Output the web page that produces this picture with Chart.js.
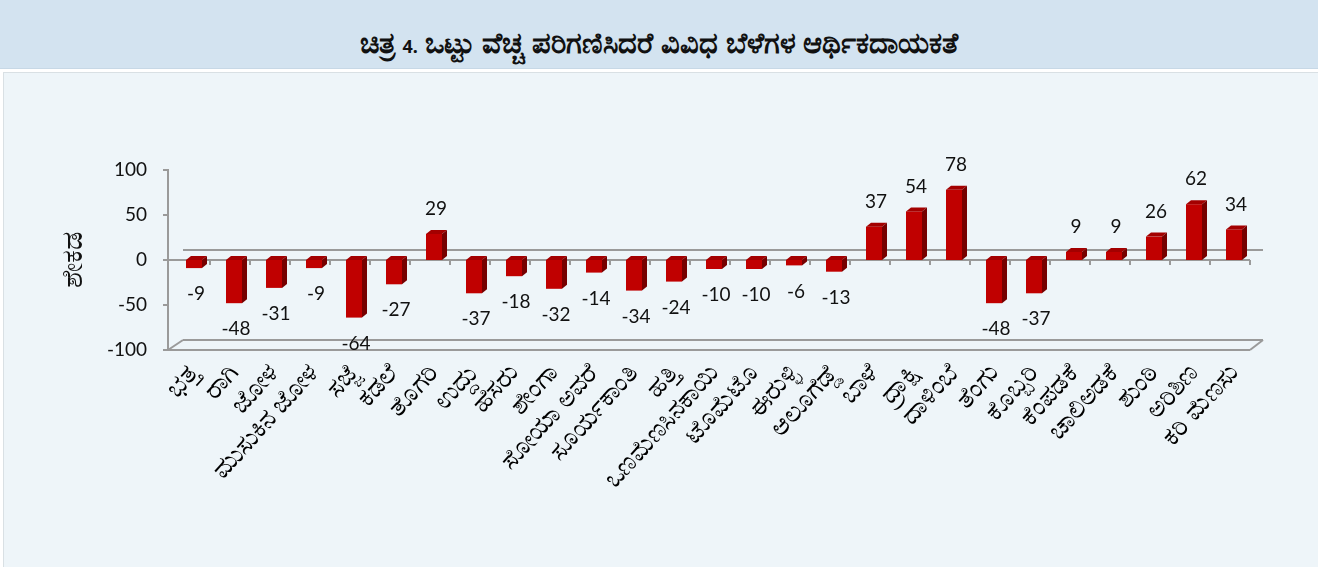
<!DOCTYPE html>
<html>
<head>
<meta charset="utf-8">
<script src="https://cdn.jsdelivr.net/npm/chart.js@4.4.1/dist/chart.umd.min.js"></script>
<style>
  html, body { margin: 0; padding: 0; background: #fff; width: 1318px; height: 567px; overflow: hidden; }
  #title {
    position: absolute; left: 0; top: 0; width: 1318px; height: 69px;
    background: #d3e3f0; box-shadow: inset 0 -1px 0 #c7d8e6;
    font: bold 29px 'Noto Sans', 'DejaVu Sans', sans-serif; color: #111;
    text-align: center; line-height: 84px;
  }
  #title .num { font-size: 18px; }
  #panel {
    position: absolute; left: 3px; top: 72px; width: 1315px; height: 495px;
    background: #eef5f9; box-shadow: inset 1px 1px 0 #d9e0e4;
  }
  #panel canvas { position: absolute; left: 0; top: 0; }
</style>
</head>
<body>
<div id="title">ಚಿತ್ರ <span class="num">4.</span> ಒಟ್ಟು ವೆಚ್ಚ ಪರಿಗಣಿಸಿದರೆ ವಿವಿಧ ಬೆಳೆಗಳ ಆರ್ಥಿಕದಾಯಕತೆ</div>
<div id="panel"><canvas id="chart" width="1315" height="495"></canvas></div>
<script>
const crops = [
  'ಭತ್ತ', 'ರಾಗಿ', 'ಜೋಳ', 'ಮುಸುಕಿನ ಜೋಳ', 'ಸಜ್ಜೆ', 'ಕಡಲೆ', 'ತೊಗರಿ', 'ಉದ್ದು', 'ಹೆಸರು',
  'ಶೇಂಗಾ', 'ಸೋಯಾ ಅವರೆ', 'ಸೂರ್ಯಕಾಂತಿ', 'ಹತ್ತಿ', 'ಒಣಮೆಣಸಿನಕಾಯಿ', 'ಟೊಮೆಟೊ', 'ಈರುಳ್ಳಿ',
  'ಆಲೂಗೆಡ್ಡೆ', 'ಬಾಳೆ', 'ದ್ರಾಕ್ಷಿ', 'ದಾಳಿಂಬೆ', 'ತೆಂಗು', 'ಕೊಬ್ಬರಿ', 'ಕೆಂಪಡಕೆ', 'ಚಾಲಿಅಡಕೆ',
  'ಶುಂಠಿ', 'ಅರಿಶಿಣ', 'ಕರಿ ಮೆಣಸು'
];
const profitability = [
  -9, -48, -31, -9, -64, -27, 29, -37, -18,
  -32, -14, -34, -24, -10, -10, -6,
  -13, 37, 54, 78, -48, -37, 9, 9,
  26, 62, 34
];
const yTicks = [-100, -50, 0, 50, 100];
const yTitle = 'ಶೇಕಡ';

const numFont = "Lato, 'Open Sans', sans-serif";
const knFont = "'Noto Sans', 'DejaVu Sans', sans-serif";
const axisGrey = '#9a9a9a';
const depth = { dx: 5, dy: -4 };      // bar extrusion
const wall = { dx: 13, dy: -10 };     // back edge of the floor / zero plane
const shift = 4;                      // columns sit this far right of the category slot

// pseudo-3D axes, floor and zero plane behind the bars
const framePlugin = {
  id: 'frame',
  beforeDatasetsDraw(chart) {
    const { ctx, scales: { x, y } } = chart;
    const y0 = y.getPixelForValue(0);
    const yb = y.getPixelForValue(-100);
    const yt = y.getPixelForValue(100);
    const L = x.left - shift, R = x.right - shift;
    const ax = L - 2;
    const seg = (a, b, c, d) => { ctx.beginPath(); ctx.moveTo(a, b); ctx.lineTo(c, d); ctx.stroke(); };
    ctx.save();
    ctx.strokeStyle = axisGrey;
    ctx.lineWidth = 2;
    // value axis with outside tick marks
    seg(ax, yt - 1, ax, yb + 1);
    yTicks.forEach(v => { const p = y.getPixelForValue(v); seg(ax - 5, p, ax, p); });
    // floor
    seg(ax, yb, R, yb);
    seg(L + wall.dx, yb + wall.dy, R + wall.dx, yb + wall.dy);
    seg(ax, yb, L + wall.dx, yb + wall.dy);
    seg(R, yb, R + wall.dx, yb + wall.dy);
    // zero plane
    seg(L + wall.dx, y0 + wall.dy, R + wall.dx, y0 + wall.dy);
    seg(ax, y0, R, y0);
    const step = (R - L) / crops.length;
    for (let i = 1; i <= crops.length; i++) seg(L + i * step, y0, L + i * step, y0 + 5);
    ctx.restore();
  }
};

// side and top faces of each column, then the value labels
const barFacesPlugin = {
  id: 'barFaces',
  afterDatasetsDraw(chart) {
    const ctx = chart.ctx;
    const meta = chart.getDatasetMeta(0);
    ctx.save();
    meta.data.forEach((bar, i) => {
      const { x, y, base, width } = bar.getProps(['x', 'y', 'base', 'width'], true);
      const l = x - width / 2, r = x + width / 2;
      const top = Math.min(y, base), bottom = Math.max(y, base);
      ctx.fillStyle = '#a30000';
      ctx.beginPath();
      ctx.moveTo(l, top); ctx.lineTo(l + depth.dx, top + depth.dy);
      ctx.lineTo(r + depth.dx, top + depth.dy); ctx.lineTo(r, top);
      ctx.closePath(); ctx.fill();
      ctx.fillStyle = '#760000';
      ctx.beginPath();
      ctx.moveTo(r, top); ctx.lineTo(r + depth.dx, top + depth.dy);
      ctx.lineTo(r + depth.dx, bottom + depth.dy); ctx.lineTo(r, bottom);
      ctx.closePath(); ctx.fill();

      const v = profitability[i];
      ctx.fillStyle = '#111';
      ctx.font = `19px ${numFont}`;
      ctx.textAlign = 'center';
      ctx.textBaseline = 'middle';
      ctx.fillText(String(v), x + 2, v >= 0 ? y - 25 : y + 26);
    });
    ctx.restore();
  }
};

new Chart(document.getElementById('chart'), {
  type: 'bar',
  data: {
    labels: crops,
    datasets: [{
      data: profitability,
      backgroundColor: '#c00000',
      borderWidth: 0,
      barPercentage: 0.4,
      categoryPercentage: 1
    }]
  },
  options: {
    responsive: false,
    animation: false,
    layout: { padding: { top: 98, right: 64, left: 0, bottom: 0 } },
    plugins: { legend: { display: false }, tooltip: { enabled: false } },
    scales: {
      x: {
        grid: { display: false },
        border: { display: false },
        ticks: {
          autoSkip: false, minRotation: 48, maxRotation: 48, padding: 0,
          color: '#000', font: { family: knFont, size: 26 }
        },
        afterFit(scale) { scale.height = 217; }
      },
      y: {
        min: -100, max: 100,
        afterBuildTicks(scale) { scale.ticks = yTicks.map(v => ({ value: v })); },
        grid: { display: false, drawTicks: false },
        border: { display: false },
        ticks: { color: '#111', padding: 27, font: { family: numFont, size: 19 } },
        title: {
          display: true, text: yTitle, color: '#111',
          font: { family: knFont, size: 29 }, padding: { top: 53 }
        },
        afterFit(scale) { scale.width = 171; }
      }
    }
  },
  plugins: [framePlugin, barFacesPlugin]
});
</script>
</body>
</html>
